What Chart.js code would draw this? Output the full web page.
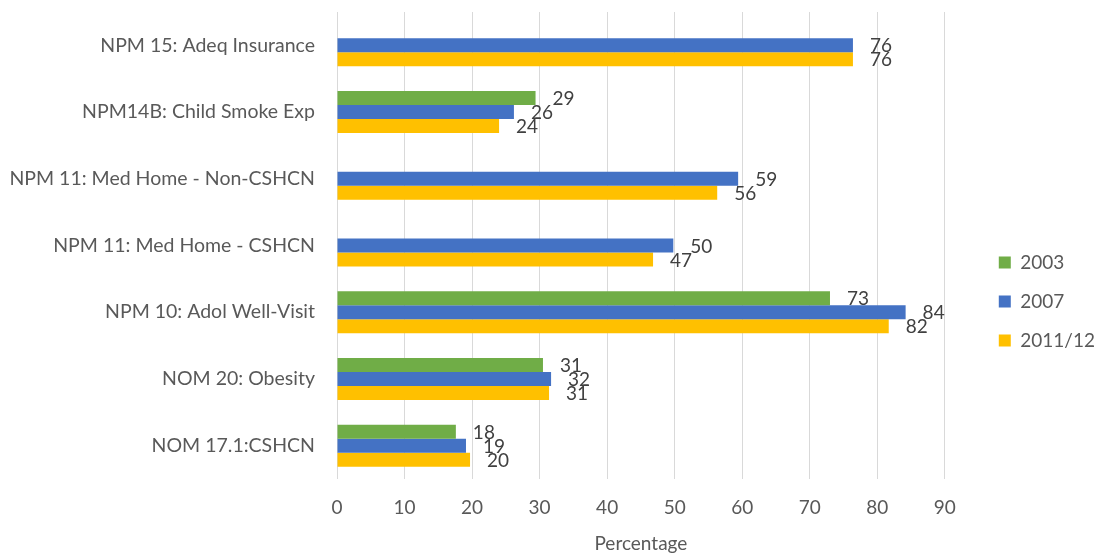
<!DOCTYPE html>
<html>
<head>
<meta charset="utf-8">
<script src="https://cdn.jsdelivr.net/npm/chart.js@4"></script>
<style>
  html, body { margin: 0; padding: 0; background: #fff; }
  #wrap { width: 1097px; height: 556px; position: relative; }
</style>
</head>
<body>
<div id="wrap"><canvas id="chart"></canvas></div>
<script>
// Chart data
const categories = [
    'NPM 15: Adeq Insurance',
    'NPM14B: Child Smoke Exp',
    'NPM 11: Med Home - Non-CSHCN',
    'NPM 11: Med Home - CSHCN',
    'NPM 10: Adol Well-Visit',
    'NOM 20: Obesity',
    'NOM 17.1:CSHCN'
];
const values2003 = [null, 29.4, null, null, 73.0, 30.5, 17.6];
const values2007 = [76.4, 26.2, 59.4, 49.8, 84.2, 31.7, 19.1];
const values2011 = [76.4, 24.0, 56.3, 46.8, 81.7, 31.4, 19.7];
const xTicks = [0, 10, 20, 30, 40, 50, 60, 70, 80, 90];

const fontFamily = 'Lato, "Open Sans", sans-serif';
const textColor = '#595959';
const gridColor = '#d9d9d9';

// Value labels at the end of each bar
const barLabels = {
    id: 'barLabels',
    afterDatasetsDraw(chart) {
        const ctx = chart.ctx;
        ctx.save();
        ctx.font = '19px ' + fontFamily;
        ctx.fillStyle = '#404040';
        ctx.textAlign = 'left';
        ctx.textBaseline = 'middle';
        chart.data.datasets.forEach((ds, i) => {
            const meta = chart.getDatasetMeta(i);
            meta.data.forEach((bar, j) => {
                const v = ds.data[j];
                if (v === null) return;
                ctx.fillText(Math.round(v), bar.x + 17, bar.y + 1);
            });
        });
        ctx.restore();
    }
};

new Chart(document.getElementById('chart'), {
    type: 'bar',
    data: {
        labels: categories,
        datasets: [
            { label: '2003', data: values2003, backgroundColor: '#70AD47' },
            { label: '2007', data: values2007, backgroundColor: '#4472C4' },
            { label: '2011/12', data: values2011, backgroundColor: '#FFC000' }
        ]
    },
    options: {
        indexAxis: 'y',
        responsive: true,
        maintainAspectRatio: false,
        animation: false,
        categoryPercentage: 0.63,
        barPercentage: 1.0,
        layout: { padding: { top: 12, right: -8, bottom: 0, left: 0 } },
        plugins: {
            tooltip: { enabled: false },
            legend: {
                position: 'right',
                title: { display: true, text: ' ', font: { size: 8, lineHeight: 1 }, padding: { top: 27, bottom: 0 } },
                labels: {
                    boxWidth: 12,
                    boxHeight: 12,
                    padding: 20,
                    color: textColor,
                    font: { family: fontFamily, size: 19 }
                }
            }
        },
        scales: {
            x: {
                min: 0,
                max: 90,
                afterBuildTicks: s => { s.ticks = xTicks.map(v => ({ value: v })); },
                afterFit: s => { s.height = 77; },
                grid: { color: gridColor, drawTicks: false },
                border: { display: false },
                ticks: { color: textColor, padding: 17, font: { family: fontFamily, size: 19 } },
                title: { display: true, text: 'Percentage', color: textColor, padding: { top: 4, bottom: 1 }, font: { family: fontFamily, size: 19 } }
            },
            y: {
                afterFit: s => { s.width = 337; },
                grid: { display: false, drawTicks: true, tickLength: 22 },
                border: { display: false },
                ticks: { color: textColor, padding: 0, font: { family: fontFamily, size: 19.5 } }
            },
            gap: {
                type: 'linear',
                position: 'right',
                afterFit: s => { s.width = 34; },
                grid: { display: false, drawTicks: false },
                border: { display: false },
                ticks: { display: false }
            }
        }
    },
    plugins: [barLabels]
});
</script>
</body>
</html>
